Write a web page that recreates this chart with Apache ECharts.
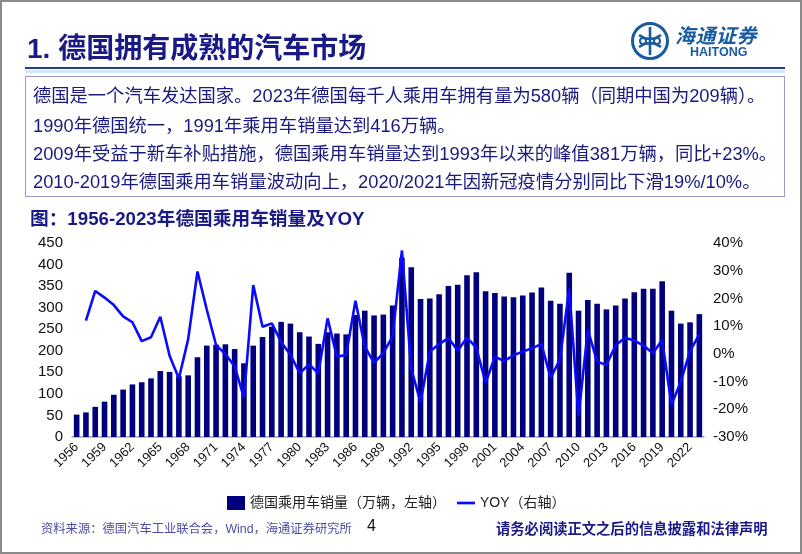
<!DOCTYPE html>
<html>
<head>
<meta charset="utf-8">
<script src="https://cdn.jsdelivr.net/npm/echarts@6/dist/echarts.min.js"></script>
<style>
  html, body { margin: 0; padding: 0; background: #fff; }
  body { width: 802px; height: 554px; position: relative; overflow: hidden;
         font-family: "Liberation Sans", Arial, "Noto Sans CJK SC", sans-serif; }
  #frame { position: absolute; left: 0; top: 0; width: 798px; height: 550px; border: 2px solid #8a8a8a; pointer-events: none; z-index: 5; }
  #chart { position: absolute; left: 0; top: 0; width: 802px; height: 554px; }
  .ov { position: absolute; z-index: 3; white-space: nowrap; }
  #title { left: 27px; top: 26px; font-size: 28px; font-weight: bold; color: #1a1a86; }
  #rule1 { left: 25px; top: 67px; width: 760px; height: 2px; background: #1f3f8f; }
  #rule2 { left: 25px; top: 70px; width: 760px; height: 3px; background: #d6e6f4; }
  #box { left: 25px; top: 76px; width: 758px; height: 119px; border: 1.5px solid #9a9ac8; }
  .para { left: 33px; font-size: 18.3px; color: #1a1a7e; }
  #sub { left: 30px; top: 203px; font-size: 18.7px; font-weight: bold; color: #1a1a86; }
  #src { left: 41px; top: 519px; font-size: 12.3px; color: #4c4ca6; }
  #pg { left: 367px; top: 517px; font-size: 16px; color: #111; }
  #disc { left: 496px; top: 517px; font-size: 14.3px; font-weight: bold; color: #1a1a86; }
  #logotxt { left: 675px; top: 20px; font-size: 20px; font-weight: bold; font-style: italic; color: #1a5aa0; letter-spacing: 0.5px; }
  #logoen { left: 690px; top: 45px; font-size: 12.5px; font-weight: bold; color: #1a5aa0; }
</style>
</head>
<body>
<div id="chart"></div>
<div id="frame"></div>
<div class="ov" id="title">1. 德国拥有成熟的汽车市场</div>
<svg class="ov" style="left:630px;top:21px;" width="40" height="40" viewBox="0 0 40 40">
  <circle cx="20" cy="20" r="17.5" fill="none" stroke="#1a5aa0" stroke-width="3"/>
  <path d="M20 6 L20 34 M9 14 Q20 22 31 14 M9 26 Q20 18 31 26" fill="none" stroke="#1a5aa0" stroke-width="2.6"/>
  <circle cx="13" cy="20" r="3" fill="none" stroke="#1a5aa0" stroke-width="2"/>
  <circle cx="27" cy="20" r="3" fill="none" stroke="#1a5aa0" stroke-width="2"/>
</svg>
<div class="ov" id="logotxt">海通证券</div>
<div class="ov" id="logoen">HAITONG</div>
<div class="ov" id="rule1"></div>
<div class="ov" id="rule2"></div>
<div class="ov" id="box"></div>
<div class="ov para" style="top:81px;">德国是一个汽车发达国家。2023年德国每千人乘用车拥有量为580辆（同期中国为209辆）。</div>
<div class="ov para" style="top:111px;">1990年德国统一，1991年乘用车销量达到416万辆。</div>
<div class="ov para" style="top:139px;">2009年受益于新车补贴措施，德国乘用车销量达到1993年以来的峰值381万辆，同比+23%。</div>
<div class="ov para" style="top:167px;">2010-2019年德国乘用车销量波动向上，2020/2021年因新冠疫情分别同比下滑19%/10%。</div>
<div class="ov" id="sub">图：1956-2023年德国乘用车销量及YOY</div>
<div class="ov" id="src">资料来源：德国汽车工业联合会，Wind，海通证券研究所</div>
<div class="ov" id="pg">4</div>
<div class="ov" id="disc">请务必阅读正文之后的信息披露和法律声明</div>
<script>
// ---- data ----
const years = [];
for (let y = 1956; y <= 2023; y++) years.push(String(y));

const salesName = '德国乘用车销量（万辆，左轴）';
const yoyName = 'YOY（右轴）';

const sales = [
  52, 57, 70, 82, 98, 110, 122, 127, 136, 153,
  151, 141, 143, 185, 212, 214, 215, 204, 171, 212,
  232, 256, 267, 263, 243, 233, 216, 243, 240, 238,
  283, 293, 282, 284, 305, 416, 394, 320, 321, 331,
  350, 353, 375, 382, 338, 334, 326, 324, 328, 335,
  347, 316, 309, 381, 293, 318, 309, 296, 305, 321,
  336, 344, 344, 361, 293, 263, 266, 285
];

const yoy = [
  null, 12.0, 22.7, 20.3, 17.6, 13.5, 11.4, 4.6, 6.0, 13.4,
  -0.7, -8.9, 5.3, 29.7, 16.0, 3.2, -0.1, -4.5, -15.8, 24.8,
  9.8, 11.0, 4.3, -0.3, -7.0, -3.8, -7.0, 12.8, -1.0, -0.4,
  19.2, 2.6, -3.2, 0.3, 6.4, 37.3, -5.3, -17.5, 0.9, 3.5,
  5.7, 1.2, 5.8, 2.3, -10.5, -1.0, -2.6, -0.5, 0.8, 2.0,
  3.6, -8.7, -2.0, 23.5, -22.5, 8.7, -2.8, -4.0, 3.1, 5.8,
  4.8, 3.0, 0.2, 5.0, -18.5, -10.0, 1.0, 7.0
];

const leftTicks = { min: 0, max: 450, interval: 50 };
const rightTicks = { min: -30, max: 40, interval: 10 };

// ---- chart ----
const chart = echarts.init(document.getElementById('chart'), null, { renderer: 'canvas' });
const font = '"Liberation Sans", Arial, "Noto Sans CJK SC", sans-serif';
chart.setOption({
  animation: false,
  textStyle: { fontFamily: font },
  grid: { left: 72, right: 98, top: 243, bottom: 117 },
  legend: {
    left: 222, top: 491,
    itemWidth: 18, itemHeight: 14, itemGap: 11,
    textStyle: { fontSize: 14, color: '#222', fontFamily: font },
    data: [
      { name: salesName, icon: 'rect' },
      { name: yoyName, icon: 'path://M0,0 H20 V3 H0 Z' }
    ]
  },
  xAxis: {
    type: 'category',
    data: years,
    boundaryGap: true,
    axisLine: { lineStyle: { color: '#a6a6a6', width: 1.5 } },
    axisTick: { show: false },
    axisLabel: { interval: 2, rotate: 45, fontSize: 13, color: '#111', margin: 8 }
  },
  yAxis: [
    {
      type: 'value', min: leftTicks.min, max: leftTicks.max, interval: leftTicks.interval,
      axisLine: { show: false }, axisTick: { show: false }, splitLine: { show: false },
      axisLabel: { fontSize: 15, color: '#111', margin: 9 }
    },
    {
      type: 'value', min: rightTicks.min, max: rightTicks.max, interval: rightTicks.interval,
      position: 'right',
      axisLine: { show: false }, axisTick: { show: false }, splitLine: { show: false },
      axisLabel: { fontSize: 15, color: '#111', margin: 9, formatter: '{value}%' }
    }
  ],
  series: [
    {
      name: salesName, type: 'bar', data: sales, yAxisIndex: 0,
      barWidth: 5.6, itemStyle: { color: '#00007f' }
    },
    {
      name: yoyName, type: 'line', data: yoy, yAxisIndex: 1,
      symbol: 'none', showSymbol: false, connectNulls: false,
      lineStyle: { color: '#0a0aff', width: 2.6 }, itemStyle: { color: '#0a0aff' }
    }
  ]
});
</script>
</body>
</html>
